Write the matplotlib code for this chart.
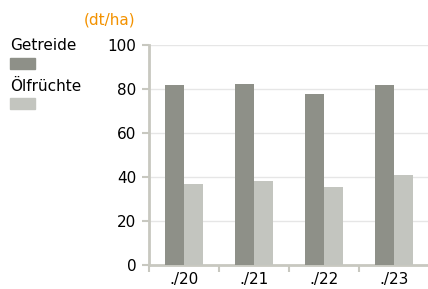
import matplotlib.pyplot as plt
import matplotlib.patches as mpatches
import numpy as np

# Ertrag (dt/ha)
jahre = ["./20", "./21", "./22", "./23"]
getreide = [81.8, 82.3, 77.7, 81.8]
oelfruechte = [36.8, 38.2, 35.5, 40.9]

c_getr = "#8e9088"
c_oel = "#c3c5bf"
grau = "#c8c8c0"

W, H = 428, 289
fig = plt.figure(figsize=(W/100, H/100), dpi=100)
ax = fig.add_axes([149/W, 1-265/H, 280/W, 220/H])

x = np.arange(len(jahre))
bw = 0.27
ax.bar(x - bw/2, getreide, bw, color=c_getr, zorder=3)
ax.bar(x + bw/2, oelfruechte, bw, color=c_oel, zorder=3)

ax.set_xlim(-0.5, len(jahre) - 0.5)
ax.set_ylim(0, 100)
ax.set_yticks([0, 20, 40, 60, 80, 100])
ax.yaxis.grid(True, color="#e6e6e6", lw=1, zorder=0)

ax.set_xticks(x)
ax.set_xticklabels(jahre, fontsize=11)
ax.tick_params(axis="x", length=0, pad=5)
# Trennstriche zwischen Kategorien
ax.set_xticks(np.arange(len(jahre)) - 0.5, minor=True)
ax.tick_params(axis="x", which="minor", length=5, color=grau, width=1.5)
ax.tick_params(axis="y", length=5, color=grau, width=1.5, labelsize=11, pad=4)

for s in ["top", "right"]:
    ax.spines[s].set_visible(False)
for s in ["left", "bottom"]:
    ax.spines[s].set_color(grau)
    ax.spines[s].set_linewidth(2)

# Einheit
fig.text(84/W, 1-20/H, "(dt/ha)", color="#f39200", fontsize=11, va="center")

# Legende
fig.text(10/W, 1-46/H, "Getreide", fontsize=11, va="center")
fig.patches.append(mpatches.Rectangle((10/W, 1-69/H), 25/W, 11/H,
                                      transform=fig.transFigure, color=c_getr))
fig.text(10/W, 1-86/H, "Ölfrüchte", fontsize=11, va="center")
fig.patches.append(mpatches.Rectangle((10/W, 1-109/H), 25/W, 11/H,
                                      transform=fig.transFigure, color=c_oel))

fig.savefig("out.png", dpi=100)
